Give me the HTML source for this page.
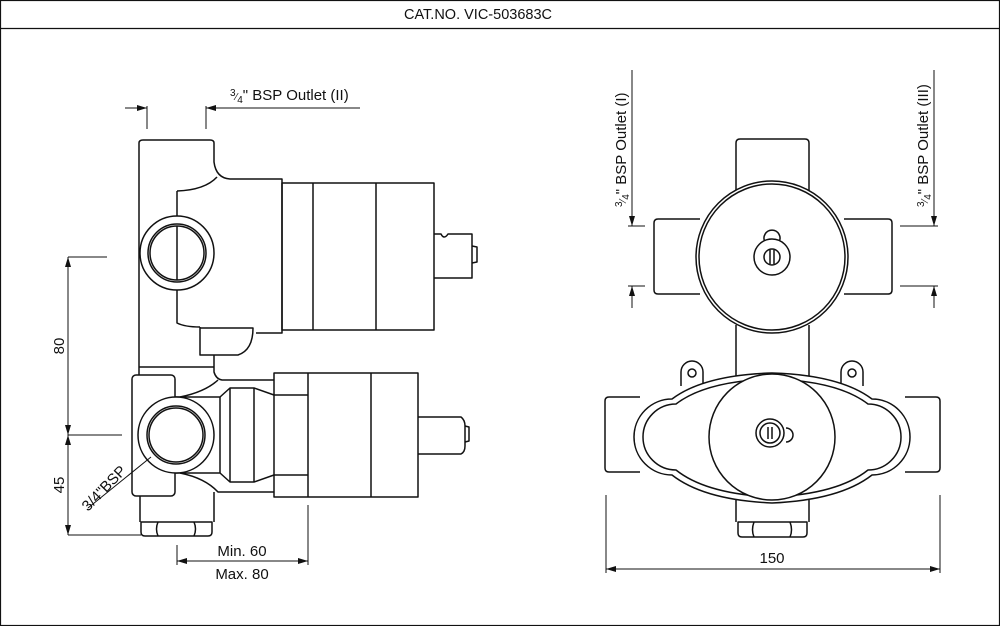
<!DOCTYPE html>
<html><head><meta charset="utf-8"><style>
html,body{margin:0;padding:0;background:#fff;}
svg{display:block;}
text{font-family:"Liberation Sans",Arial,sans-serif;fill:#111;}
</style></head><body>
<svg width="1000" height="626" viewBox="0 0 1000 626" xmlns="http://www.w3.org/2000/svg">
<defs>
<marker id="ar" viewBox="0 0 10 6" refX="10" refY="3" markerWidth="10" markerHeight="6" orient="auto-start-reverse" markerUnits="userSpaceOnUse">
<path d="M0,0 L10,3 L0,6 Z" fill="#111"/></marker>
</defs>
<rect x="0.5" y="0.5" width="999" height="625" fill="none" stroke="#111" stroke-width="1.2"/>
<line x1="0" y1="28.5" x2="1000" y2="28.5" stroke="#111" stroke-width="1.2"/>
<text x="478" y="19" font-size="14.5" text-anchor="middle">CAT.NO. VIC-503683C</text>

<g fill="none" stroke="#111" stroke-width="1.5" stroke-linejoin="round">
<g stroke-width="1">
<line x1="125" y1="108" x2="147" y2="108" marker-end="url(#ar)"/>
<line x1="147" y1="106" x2="147" y2="129"/>
<line x1="206" y1="106" x2="206" y2="129"/>
<line x1="360" y1="108" x2="206" y2="108" marker-end="url(#ar)"/>
</g>
<path d="M139,367 L139,143 Q139,140 143,140 L210,140 Q214,140 214,143 L214,162 Q216,178 230,179 L282,179 L282,333 L256,333"/>
<path d="M177,191 Q205,190 217,177"/>
<path d="M177,191 L177,323 Q185,327 200,327"/>
<path d="M200,327 L200,355 L238,355 Q253,350 253,328 L200,328"/>
<line x1="214" y1="355" x2="214" y2="367"/>
<line x1="139" y1="367" x2="214" y2="367"/>
<rect x="282" y="183" width="152" height="147"/>
<line x1="313" y1="183" x2="313" y2="330"/>
<line x1="376" y1="183" x2="376" y2="330"/>
<path d="M434,234 L441,234 Q444,240 448,234 L472,234 L472,278 L434,278"/>
<path d="M472,246 L477,247 L477,262 L472,263"/>
<circle cx="177" cy="253" r="37" fill="#fff"/>
<circle cx="177" cy="253" r="29"/>
<circle cx="177" cy="253" r="27"/>
<line x1="177" y1="226" x2="177" y2="280"/>

<rect x="132" y="375" width="43" height="121" rx="4" fill="#fff"/>
<path d="M139,367 L139,375 M214,367 L214,372 Q216,379 222,380 L274,380"/>
<path d="M180,397 Q205,392 218,380"/>
<path d="M180,473 Q205,478 218,492 L274,492"/>
<path d="M214,492 L214,522 M140,496 L140,522"/>
<path d="M175,397 L220,397 L230,388 L254,388 L274,395"/>
<path d="M175,473 L220,473 L230,482 L254,482 L274,475"/>
<path d="M220,397 L220,473 M230,388 L230,482 M254,388 L254,482"/>
<path d="M141,522 L212,522 L212,532 Q212,536 208,536 L145,536 Q141,536 141,532 Z"/>
<path d="M158,522 Q155,529 158,536 M194,522 Q197,529 194,536"/>
<circle cx="176" cy="435" r="38" fill="#fff"/>
<circle cx="176" cy="435" r="29"/>
<circle cx="176" cy="435" r="27"/>
<rect x="274" y="373" width="144" height="124"/>
<line x1="308" y1="373" x2="308" y2="497"/>
<line x1="371" y1="373" x2="371" y2="497"/>
<line x1="274" y1="395" x2="308" y2="395"/>
<line x1="274" y1="475" x2="308" y2="475"/>
<path d="M418,417 L461,417 Q465,420 465,426 L465,446 Q465,452 461,454 L418,454"/>
<path d="M465,426 L469,427 L469,441 L465,442"/>

<g stroke-width="1">
<line x1="68" y1="257" x2="107" y2="257"/>
<line x1="68" y1="435" x2="122" y2="435"/>
<line x1="68" y1="535" x2="141" y2="535"/>
<line x1="68" y1="346" x2="68" y2="257" marker-end="url(#ar)"/>
<line x1="68" y1="346" x2="68" y2="435" marker-end="url(#ar)"/>
<line x1="68" y1="485" x2="68" y2="435" marker-end="url(#ar)"/>
<line x1="68" y1="485" x2="68" y2="535" marker-end="url(#ar)"/>
<line x1="88" y1="508" x2="151" y2="457"/>
<line x1="177" y1="545" x2="177" y2="565"/>
<line x1="308" y1="505" x2="308" y2="565"/>
<line x1="242" y1="561" x2="177" y2="561" marker-end="url(#ar)"/>
<line x1="242" y1="561" x2="308" y2="561" marker-end="url(#ar)"/>
</g>

<path d="M736,195 L736,143 Q736,139 740,139 L805,139 Q809,139 809,143 L809,195"/>
<path d="M700,219 L658,219 Q654,219 654,223 L654,290 Q654,294 658,294 L700,294"/>
<path d="M844,219 L888,219 Q892,219 892,223 L892,290 Q892,294 888,294 L844,294"/>
<path d="M736,325 L736,378 M809,325 L809,378"/>
<circle cx="772" cy="257" r="76" fill="#fff"/>
<circle cx="772" cy="257" r="73"/>
<path d="M765,242 A8,8 0 1 1 779,242"/>
<circle cx="772" cy="257" r="18" fill="#fff"/>
<circle cx="772" cy="257" r="8"/>
<path d="M770,250 L770,264 M774,250 L774,264"/>
<path d="M681,386 L681,372 A11,11 0 0 1 703,372 L703,383"/>
<circle cx="692" cy="373" r="4"/>
<path d="M841,383 L841,372 A11,11 0 0 1 863,372 L863,386"/>
<circle cx="852" cy="373" r="4"/>
<path d="M640,397 L609,397 Q605,397 605,401 L605,468 Q605,472 609,472 L640,472"/>
<path d="M905,397 L936,397 Q940,397 940,401 L940,468 Q940,472 936,472 L905,472"/>
<path d="M736,500 L736,522 M809,500 L809,522"/>
<path d="M738,522 L807,522 L807,533 Q807,537 803,537 L742,537 Q738,537 738,533 Z"/>
<path d="M754,522 Q751,530 754,537 M790,522 Q793,530 790,537"/>
<path d="M772,373 Q840,375 872,399 A38,38 0 0 1 872,475 Q840,500 772,503 Q704,500 672,475 A38,38 0 0 1 672,399 Q704,375 772,373 Z" fill="#fff"/>
<path d="M772,379 Q838,381 868,404 A33,33 0 0 1 868,470 Q838,494 772,497 Q706,494 676,470 A33,33 0 0 1 676,404 Q706,381 772,379 Z"/>
<circle cx="772" cy="437" r="63" fill="#fff"/>
<path d="M786,428 A7,7 0 1 1 786,442"/>
<circle cx="770" cy="433" r="14" fill="#fff"/>
<circle cx="770" cy="433" r="10"/>
<path d="M768,427 L768,439 M772,427 L772,439"/>

<g stroke-width="1">
<line x1="632" y1="70" x2="632" y2="226" marker-end="url(#ar)"/>
<line x1="628" y1="226" x2="645" y2="226"/>
<line x1="628" y1="286" x2="645" y2="286"/>
<line x1="632" y1="308" x2="632" y2="286" marker-end="url(#ar)"/>
<line x1="934" y1="70" x2="934" y2="226" marker-end="url(#ar)"/>
<line x1="900" y1="226" x2="938" y2="226"/>
<line x1="900" y1="286" x2="938" y2="286"/>
<line x1="934" y1="308" x2="934" y2="286" marker-end="url(#ar)"/>
<line x1="606" y1="495" x2="606" y2="573"/>
<line x1="940" y1="495" x2="940" y2="573"/>
<line x1="772" y1="569" x2="606" y2="569" marker-end="url(#ar)"/>
<line x1="772" y1="569" x2="940" y2="569" marker-end="url(#ar)"/>
</g>
</g>

<text x="230" y="100" font-size="15"><tspan font-size="10" dy="-4">3</tspan><tspan font-size="10" dy="4">⁄</tspan><tspan font-size="10" dy="3">4</tspan><tspan dy="-3">" BSP Outlet (II)</tspan></text>
<text transform="translate(64,346) rotate(-90)" font-size="15" text-anchor="middle">80</text>
<text transform="translate(64,485) rotate(-90)" font-size="15" text-anchor="middle">45</text>
<text transform="translate(88,512) rotate(-46)" font-size="15">3/4"BSP</text>
<text x="242" y="556" font-size="15" text-anchor="middle">Min. 60</text>
<text x="242" y="579" font-size="15" text-anchor="middle">Max. 80</text>
<text transform="translate(626,207) rotate(-90)" font-size="15"><tspan font-size="10" dy="-4">3</tspan><tspan font-size="10" dy="4">⁄</tspan><tspan font-size="10" dy="3">4</tspan><tspan dy="-3">" BSP Outlet (I)</tspan></text>
<text transform="translate(928,207) rotate(-90)" font-size="15"><tspan font-size="10" dy="-4">3</tspan><tspan font-size="10" dy="4">⁄</tspan><tspan font-size="10" dy="3">4</tspan><tspan dy="-3">" BSP Outlet (III)</tspan></text>
<text x="772" y="563" font-size="15" text-anchor="middle">150</text>
</svg>
</body></html>
